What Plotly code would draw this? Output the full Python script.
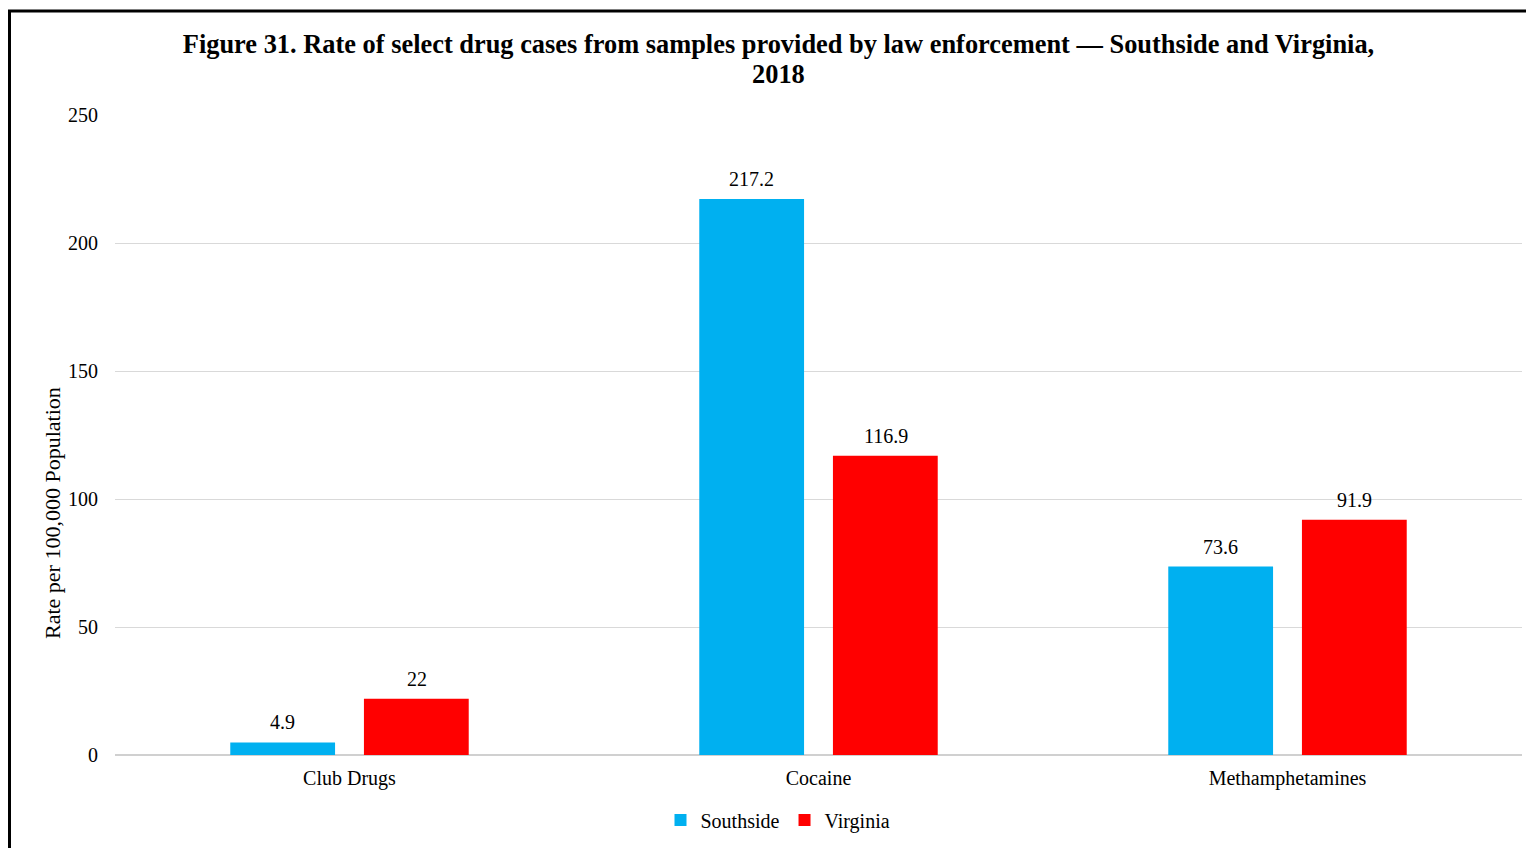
import plotly.graph_objects as go

categories = ["Club Drugs", "Cocaine", "Methamphetamines"]
southside = [4.9, 217.2, 73.6]
virginia = [22, 116.9, 91.9]
southside_labels = ["4.9", "217.2", "73.6"]
virginia_labels = ["22", "116.9", "91.9"]
y_ticks = [0, 50, 100, 150, 200, 250]

FONT = "Liberation Serif, Times New Roman, serif"
W, H = 1526, 840
L, R, T, B = 107, 12, 107, 93
PW, PH = W - L - R, H - T - B

fig = go.Figure()
fig.add_trace(go.Bar(
    x=categories, y=southside, name="Southside",
    marker=dict(color="#00B0F0", line=dict(width=0)),
))
fig.add_trace(go.Bar(
    x=categories, y=virginia, name="Virginia",
    marker=dict(color="#FF0000", line=dict(width=0)),
))

annotations = []
for vals, labels, shift in ((southside, southside_labels, -67), (virginia, virginia_labels, 67)):
    for c, v, lab in zip(categories, vals, labels):
        annotations.append(dict(
            x=c, y=v, xref="x", yref="y", text=lab, showarrow=False,
            xshift=shift, yshift=7, yanchor="bottom", xanchor="center",
            font=dict(family=FONT, size=20, color="#000000"),
        ))

annotations.append(dict(
    text="Rate per 100,000 Population", textangle=-90,
    xref="paper", yref="paper",
    x=(52 - 115) / PW, y=(755 - 513) / PH,
    xanchor="center", yanchor="middle", showarrow=False,
    font=dict(family=FONT, size=22, color="#000000"),
))
annotations.append(dict(
    text="<b>2018</b>", xref="paper", yref="paper",
    x=(778 - 115) / PW, y=(755 - 74) / PH,
    xanchor="center", yanchor="middle", showarrow=False,
    font=dict(family=FONT, size=26.4, color="#000000"),
))

fig.update_layout(
    width=W, height=H,
    margin=dict(l=L, r=R, t=T, b=B, autoexpand=False),
    paper_bgcolor="white", plot_bgcolor="white",
    barmode="group", bargap=0.43, bargroupgap=0.216,
    font=dict(family=FONT, size=20, color="#000000"),
    title=dict(
        text="Figure 31. Rate of select drug cases from samples provided by law enforcement \u2014 Southside and Virginia,",
        x=(778.5 - 8) / W, xanchor="center", xref="container",
        y=1 - (44 - 8) / H, yanchor="middle", yref="container",
        font=dict(family=FONT, size=26.4, color="#000000", weight="bold"),
    ),
    showlegend=True,
    legend=dict(
        orientation="h", x=(778 - 115) / PW, xanchor="center",
        yref="container", y=1 - (820 - 8) / H, yanchor="middle",
        font=dict(family=FONT, size=20, color="#000000"),
        itemwidth=30, tracegroupgap=0,
    ),
    xaxis=dict(
        showgrid=False, showline=False, ticks="", ticklabelstandoff=9,
        automargin=False,
        tickfont=dict(family=FONT, size=20, color="#000000"),
    ),
    yaxis=dict(
        range=[0, 250], tickvals=y_ticks, showgrid=True, gridcolor="#d9d9d9",
        gridwidth=1, zeroline=True, zerolinecolor="#d0d0d0", zerolinewidth=2,
        showline=False, ticks="", ticklabelstandoff=16, automargin=False,
        tickfont=dict(family=FONT, size=20, color="#000000"),
    ),
    annotations=annotations,
    shapes=[
        dict(type="line", xref="paper", yref="paper",
             x0=(9.5 - 115) / PW, x1=(9.5 - 115) / PW,
             y0=(755 - 11) / PH, y1=-0.3,
             line=dict(color="black", width=3)),
        dict(type="line", xref="paper", yref="paper",
             x0=(8 - 115) / PW, x1=1.1,
             y0=(755 - 11) / PH, y1=(755 - 11) / PH,
             line=dict(color="black", width=3)),
    ],
)

fig.write_html("out.html")
